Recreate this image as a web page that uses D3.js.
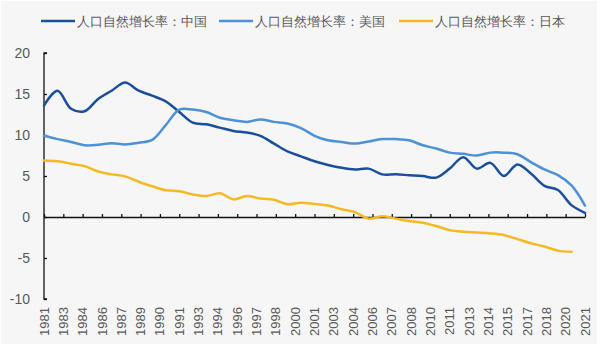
<!DOCTYPE html>
<html>
<head>
<meta charset="utf-8">
<script src="https://cdn.jsdelivr.net/npm/d3@7"></script>
<style>
  body { margin: 0; background: #fff; }
  text { font-family: "Liberation Sans", Arial, sans-serif; }
</style>
</head>
<body>
<svg id="chart" width="600" height="347"></svg>
<script>
// Data
const years = d3.range(1981, 2022);
const china = [13.6, 15.4, 13.2, 12.9, 14.4, 15.4, 16.4, 15.4, 14.8, 14.1, 12.8, 11.5, 11.3, 10.9, 10.5, 10.3, 9.9, 8.95, 8.0, 7.4,
  6.8, 6.35, 6.0, 5.8, 5.9, 5.2, 5.2, 5.1, 5.0, 4.8, 5.9, 7.3, 5.9, 6.6, 5.0, 6.4, 5.3, 3.8, 3.3, 1.45, 0.5];
const usa = [9.9, 9.5, 9.15, 8.75, 8.8, 9.0, 8.85, 9.05, 9.4, 11.2, 13.1, 13.1, 12.8, 12.1, 11.8, 11.6, 11.9, 11.6, 11.4, 10.85,
  9.9, 9.35, 9.15, 8.95, 9.2, 9.5, 9.5, 9.35, 8.75, 8.35, 7.85, 7.7, 7.5, 7.85, 7.85, 7.65, 6.7, 5.8, 5.1, 3.85, 1.4];
const japan = [6.9, 6.8, 6.5, 6.2, 5.55, 5.2, 4.95, 4.3, 3.75, 3.25, 3.15, 2.75, 2.55, 2.9, 2.15, 2.55, 2.25, 2.1, 1.55, 1.75,
  1.6, 1.4, 0.95, 0.6, -0.2, 0.1, -0.2, -0.5, -0.7, -1.1, -1.6, -1.8, -1.9, -2.0, -2.2, -2.7, -3.2, -3.6, -4.1, -4.25];
const seriesNames = ['人口自然增长率：中国', '人口自然增长率：美国', '人口自然增长率：日本'];
const tickLabels = ['1981', '1983', '1984', '1986', '1987', '1989', '1990', '1991', '1993', '1994', '1996', '1997', '1998', '2000',
  '2001', '2003', '2004', '2006', '2007', '2008', '2010', '2011', '2013', '2014', '2015', '2017', '2018', '2020', '2021'];
const yTicks = [-10, -5, 0, 5, 10, 15, 20];

const colors = ['#1a4f9d', '#4d91d7', '#f6b924'];
const seriesData = [china, usa, japan];

const svg = d3.select('#chart');

// background panel
svg.append('rect')
  .attr('x', 1).attr('y', 1).attr('width', 596).attr('height', 343)
  .attr('fill', '#f6f6f6');

const x = d3.scaleLinear().domain([1981, 2021]).range([44, 585]);
const xLab = d3.scalePoint().domain(tickLabels).range([44, 585]);
const y = d3.scaleLinear().domain([-10, 20]).range([299, 53]);

// y axis
const yAxis = svg.append('g')
  .attr('transform', `translate(${x.range()[0]},0)`)
  .call(d3.axisRight(y).tickValues(yTicks).tickSize(3).tickFormat(''));
yAxis.select('.domain').attr('stroke', '#111').attr('stroke-width', 1.3).attr('d', `M3,${y(20)}H0V${y(-10)}H3`);
yAxis.selectAll('.tick line').attr('stroke', '#111').attr('stroke-width', 1.3);

svg.append('g')
  .selectAll('text')
  .data(yTicks)
  .join('text')
    .attr('x', 30)
    .attr('y', d => y(d))
    .attr('dy', '0.35em')
    .attr('text-anchor', 'end')
    .attr('font-size', 14)
    .attr('fill', '#595959')
    .text(d => d);

// x axis at zero
const xAxis = svg.append('g')
  .attr('transform', `translate(0,${y(0)})`)
  .call(d3.axisTop(xLab).tickSize(3).tickSizeOuter(0).tickFormat(''));
xAxis.select('.domain').attr('stroke', '#111').attr('stroke-width', 1.3);
xAxis.selectAll('.tick line').attr('stroke', '#111').attr('stroke-width', 1.3);

svg.append('g')
  .selectAll('text')
  .data(tickLabels)
  .join('text')
    .attr('transform', d => `translate(${xLab(d)},307) rotate(-90)`)
    .attr('dy', '0.35em')
    .attr('text-anchor', 'end')
    .attr('font-size', 13)
    .attr('fill', '#595959')
    .text(d => d);

// lines
const line = d3.line()
  .x((d, i) => x(years[i]))
  .y(d => y(d))
  .curve(d3.curveCatmullRom.alpha(0.5));

svg.append('g')
  .selectAll('path')
  .data(seriesData)
  .join('path')
    .attr('d', d => line(d))
    .attr('fill', 'none')
    .attr('stroke', (d, i) => colors[i])
    .attr('stroke-width', 2.5)
    .attr('stroke-linejoin', 'round')
    .attr('stroke-linecap', 'round');

// legend
const legendX = [41, 219, 399];
const legend = svg.append('g')
  .selectAll('g')
  .data(seriesNames)
  .join('g')
    .attr('transform', (d, i) => `translate(${legendX[i]},21)`);
legend.append('line')
  .attr('x1', 0).attr('x2', 34)
  .attr('stroke', (d, i) => colors[i])
  .attr('stroke-width', 2.5);
legend.append('text')
  .attr('x', 36)
  .attr('dy', '0.35em')
  .attr('font-size', 13)
  .attr('font-family', '"Noto Sans CJK SC", sans-serif')
  .attr('fill', '#595959')
  .text(d => d);
</script>
</body>
</html>
